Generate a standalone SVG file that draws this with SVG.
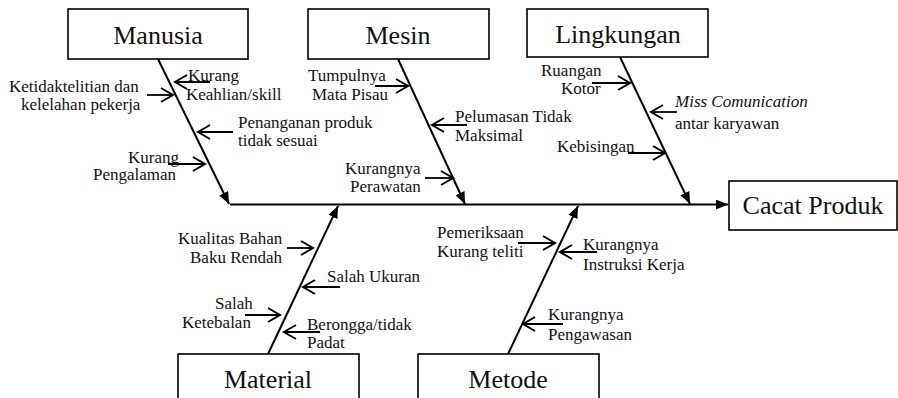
<svg xmlns="http://www.w3.org/2000/svg" width="898" height="398" viewBox="0 0 898 398">
<defs>
<style>
.box{fill:#fff;stroke:#000;stroke-width:1.6}
.hd{font-family:"Liberation Serif","Times New Roman",serif;font-size:26px;fill:#111;text-anchor:middle}
.lb{font-family:"Liberation Serif","Times New Roman",serif;font-size:17px;fill:#111}
.br{stroke:#000;stroke-width:2;fill:none;marker-end:url(#tri)}
.sm{stroke:#000;stroke-width:1.8;fill:none;marker-end:url(#chev)}
</style>
<marker id="tri" viewBox="0 0 12 10" refX="12" refY="5" markerWidth="12" markerHeight="10" markerUnits="userSpaceOnUse" orient="auto"><path d="M0,0 L12,5 L0,10 z" fill="#000"/></marker>
<marker id="chev" viewBox="0 0 15 16" refX="13" refY="8" markerWidth="15" markerHeight="16" markerUnits="userSpaceOnUse" orient="auto"><path d="M1,1 L13,8 L1,15" fill="none" stroke="#000" stroke-width="2"/></marker>
</defs>
<rect width="898" height="398" fill="#fff"/>

<g id="connectors">
<line class="br" x1="230" y1="204.5" x2="728" y2="204.5"/>
<line class="br" x1="158" y1="59" x2="229" y2="204"/>
<line class="br" x1="398" y1="59" x2="465" y2="204"/>
<line class="br" x1="620" y1="57" x2="690" y2="204"/>
<line class="br" x1="268" y1="354" x2="338" y2="206"/>
<line class="br" x1="508" y1="354" x2="578" y2="206"/>
<!-- Manusia causes -->
<line class="sm" x1="147" y1="95" x2="173" y2="95"/>
<line class="sm" x1="210" y1="82" x2="175" y2="82"/>
<line class="sm" x1="233" y1="132" x2="198" y2="132"/>
<line class="sm" x1="168" y1="164" x2="205" y2="164"/>
<!-- Mesin causes -->
<line class="sm" x1="375" y1="86" x2="408" y2="86"/>
<line class="sm" x1="467" y1="125" x2="432" y2="125"/>
<line class="sm" x1="425" y1="178" x2="453" y2="178"/>
<!-- Lingkungan causes -->
<line class="sm" x1="592" y1="83" x2="630" y2="83"/>
<line class="sm" x1="677" y1="112" x2="651" y2="112"/>
<line class="sm" x1="628" y1="153" x2="665" y2="153"/>
<!-- Material causes -->
<line class="sm" x1="287" y1="248" x2="313" y2="248"/>
<line class="sm" x1="340" y1="287" x2="303" y2="287"/>
<line class="sm" x1="245" y1="315" x2="280" y2="315"/>
<line class="sm" x1="320" y1="332" x2="284" y2="332"/>
<!-- Metode causes -->
<line class="sm" x1="518" y1="243" x2="555" y2="243"/>
<line class="sm" x1="597" y1="252" x2="560" y2="252"/>
<line class="sm" x1="563" y1="324" x2="523" y2="324"/>
</g>

<g id="manusia">
<rect class="box" x="68" y="9" width="180" height="50"/>
<text class="hd" x="158" y="44">Manusia</text>
</g>
<g id="mesin">
<rect class="box" x="308" y="9" width="181" height="50"/>
<text class="hd" x="398" y="44">Mesin</text>
</g>
<g id="lingkungan">
<rect class="box" x="527" y="9" width="181" height="48"/>
<text class="hd" x="618" y="43">Lingkungan</text>
</g>
<g id="cacat-produk">
<rect class="box" x="729" y="181" width="168" height="49"/>
<text class="hd" x="813" y="214">Cacat Produk</text>
</g>
<g id="material">
<rect class="box" x="178" y="354" width="181" height="60"/>
<text class="hd" x="268" y="388">Material</text>
</g>
<g id="metode">
<rect class="box" x="418" y="354" width="181" height="60"/>
<text class="hd" x="508" y="388">Metode</text>
</g>

<g id="cause-manusia">
<text class="lb" x="9" y="92">Ketidaktelitian dan</text>
<text class="lb" x="21" y="110">kelelahan pekerja</text>
<text class="lb" x="188" y="81">Kurang</text>
<text class="lb" x="186" y="100">Keahlian/skill</text>
<text class="lb" x="238" y="128">Penanganan produk</text>
<text class="lb" x="238" y="146">tidak sesuai</text>
<text class="lb" x="128" y="163">Kurang</text>
<text class="lb" x="93" y="180">Pengalaman</text>
</g>
<g id="cause-mesin">
<text class="lb" x="308" y="81">Tumpulnya</text>
<text class="lb" x="312" y="100">Mata Pisau</text>
<text class="lb" x="455" y="122">Pelumasan Tidak</text>
<text class="lb" x="455" y="141">Maksimal</text>
<text class="lb" x="345" y="174">Kurangnya</text>
<text class="lb" x="350" y="192">Perawatan</text>
</g>
<g id="cause-lingkungan">
<text class="lb" x="541" y="76">Ruangan</text>
<text class="lb" x="561" y="94">Kotor</text>
<text class="lb" x="675" y="107" font-style="italic">Miss Comunication</text>
<text class="lb" x="675" y="129">antar karyawan</text>
<text class="lb" x="557" y="152">Kebisingan</text>
</g>
<g id="cause-material">
<text class="lb" x="178" y="244">Kualitas Bahan</text>
<text class="lb" x="190" y="263">Baku Rendah</text>
<text class="lb" x="327" y="282">Salah Ukuran</text>
<text class="lb" x="215" y="309">Salah</text>
<text class="lb" x="182" y="328">Ketebalan</text>
<text class="lb" x="307" y="330">Berongga/tidak</text>
<text class="lb" x="307" y="348">Padat</text>
</g>
<g id="cause-metode">
<text class="lb" x="437" y="238">Pemeriksaan</text>
<text class="lb" x="437" y="257">Kurang teliti</text>
<text class="lb" x="583" y="250">Kurangnya</text>
<text class="lb" x="583" y="270">Instruksi Kerja</text>
<text class="lb" x="548" y="320">Kurangnya</text>
<text class="lb" x="548" y="340">Pengawasan</text>
</g>
</svg>
